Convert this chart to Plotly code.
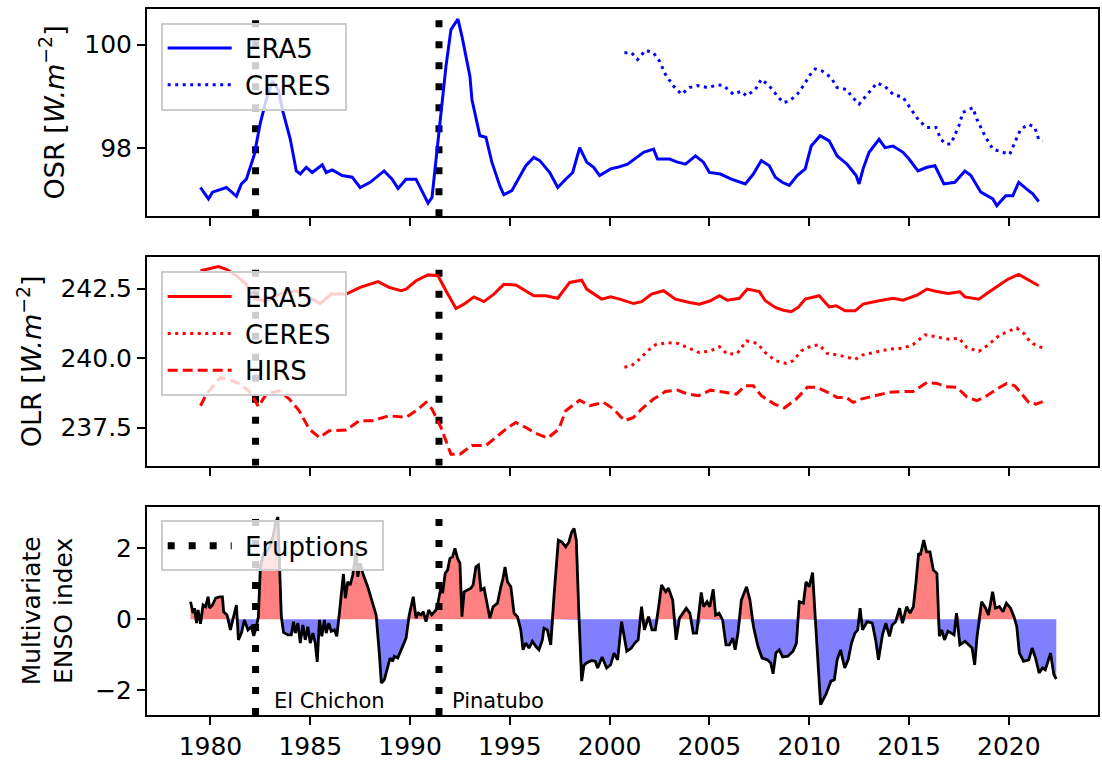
import plotly.graph_objects as go

# ---------------- data ----------------
osr_era5_year = [1979.5, 1979.9, 1980.1, 1980.8, 1981.3, 1981.55, 1981.8, 1982.2, 1982.5, 1982.8,
                 1983.1, 1983.4, 1983.6, 1984.0, 1984.3, 1984.5, 1984.8, 1985.1, 1985.6, 1985.8,
                 1986.1, 1986.6, 1987.1, 1987.5, 1988.0, 1988.7, 1989.1, 1989.4, 1989.8, 1990.3,
                 1990.55, 1990.9, 1991.1, 1991.3, 1991.55, 1991.8, 1992.05, 1992.4, 1992.6, 1993.0,
                 1993.1, 1993.5, 1993.8, 1994.1, 1994.5, 1994.7, 1995.1, 1995.5, 1995.8, 1996.2,
                 1996.5, 1997.0, 1997.4, 1997.8, 1998.15, 1998.5, 1998.85, 1999.2, 1999.5, 2000.05,
                 2000.4, 2000.9, 2001.25, 2001.7, 2002.2, 2002.4, 2003.0, 2003.4, 2003.8, 2004.3,
                 2004.7, 2005.0, 2005.55, 2006.1, 2006.8, 2007.2, 2007.6, 2008.0, 2008.3, 2008.65,
                 2009.0, 2009.4, 2009.8, 2010.1, 2010.55, 2011.0, 2011.4, 2011.9, 2012.35, 2012.5,
                 2012.7, 2013.0, 2013.5, 2013.8, 2014.2, 2014.7, 2015.0, 2015.45, 2015.9, 2016.3,
                 2016.75, 2017.3, 2017.8, 2018.1, 2018.6, 2019.2, 2019.4, 2019.85, 2020.2, 2020.5,
                 2020.9, 2021.2, 2021.5]
osr_era5 = [97.24, 97.02, 97.15, 97.24, 97.07, 97.31, 97.40, 97.88, 98.49, 98.94,
            99.29, 99.13, 98.75, 98.17, 97.56, 97.50, 97.63, 97.53, 97.68, 97.53,
            97.58, 97.47, 97.44, 97.24, 97.34, 97.56, 97.40, 97.22, 97.40, 97.40,
            97.21, 96.94, 97.05, 97.79, 98.75, 99.58, 100.29, 100.49, 100.16, 99.39,
            98.94, 98.24, 98.21, 97.73, 97.27, 97.10, 97.18, 97.47, 97.66, 97.82,
            97.76, 97.53, 97.24, 97.40, 97.53, 98.01, 97.73, 97.63, 97.47, 97.60,
            97.63, 97.69, 97.79, 97.92, 97.98, 97.79, 97.79, 97.73, 97.69, 97.85,
            97.73, 97.53, 97.50, 97.40, 97.31, 97.50, 97.76, 97.66, 97.44, 97.34,
            97.28, 97.47, 97.60, 98.04, 98.24, 98.14, 97.85, 97.69, 97.47, 97.31,
            97.60, 97.92, 98.17, 98.01, 98.04, 97.92, 97.79, 97.56, 97.63, 97.66,
            97.31, 97.34, 97.56, 97.47, 97.15, 97.02, 96.89, 97.08, 97.08, 97.34,
            97.21, 97.12, 96.97]

osr_ceres_year = [2000.74, 2001.1, 2001.4, 2001.8, 2002.2, 2002.5, 2002.8, 2003.2, 2003.6, 2004.0,
                  2004.4, 2004.9, 2005.4, 2005.7, 2006.2, 2006.6, 2006.85, 2007.3, 2007.6, 2008.0,
                  2008.4, 2008.7, 2009.0, 2009.4, 2009.7, 2010.05, 2010.3, 2010.65, 2011.1, 2011.4,
                  2011.9, 2012.1, 2012.5, 2012.8, 2013.2, 2013.4, 2013.8, 2014.2, 2014.7, 2015.1,
                  2015.5, 2015.9, 2016.35, 2016.6, 2016.85, 2017.1, 2017.5, 2017.7, 2018.2, 2018.4,
                  2018.8, 2019.2, 2019.7, 2020.05, 2020.3, 2020.6, 2021.0, 2021.3, 2021.5, 2021.7]
osr_ceres = [99.84, 99.84, 99.71, 99.89, 99.84, 99.68, 99.42, 99.20, 99.04, 99.17,
             99.21, 99.17, 99.22, 99.21, 99.04, 99.10, 99.01, 99.13, 99.33, 99.20,
             99.01, 98.88, 98.91, 99.04, 99.20, 99.42, 99.53, 99.49, 99.36, 99.17,
             99.13, 99.01, 98.85, 98.98, 99.17, 99.26, 99.19, 99.04, 98.98, 98.75,
             98.53, 98.40, 98.40, 98.17, 98.08, 98.08, 98.43, 98.69, 98.78, 98.56,
             98.24, 97.98, 97.92, 97.88, 98.11, 98.37, 98.46, 98.40, 98.17, 98.14]

olr_era5_year = [1979.5, 1979.8, 1980.4, 1980.8, 1981.3, 1981.8, 1982.2, 1982.8, 1983.45, 1984.3,
                 1984.95, 1985.5, 1986.05, 1986.8, 1987.5, 1988.4, 1988.95, 1989.55, 1989.8, 1990.3,
                 1990.9, 1991.4, 1991.8, 1992.3, 1992.7, 1993.2, 1993.7, 1994.2, 1994.7, 1995.3,
                 1996.2, 1996.8, 1997.4, 1998.0, 1998.6, 1998.85, 1999.6, 2000.05, 2000.5, 2001.2,
                 2001.6, 2002.1, 2002.7, 2003.3, 2004.0, 2004.5, 2005.05, 2005.5, 2005.9, 2006.5,
                 2006.9, 2007.5, 2007.8, 2008.3, 2008.7, 2009.1, 2009.45, 2009.8, 2010.5, 2011.0,
                 2011.35, 2011.8, 2012.3, 2012.7, 2013.5, 2014.2, 2014.7, 2015.4, 2015.9, 2016.4,
                 2016.95, 2017.55, 2017.8, 2018.5, 2018.9, 2019.45, 2019.95, 2020.5, 2020.8, 2021.2,
                 2021.5]
olr_era5 = [243.14, 243.19, 243.29, 243.19, 242.96, 242.65, 242.12, 242.06, 242.30, 242.42,
            242.18, 241.96, 242.30, 242.30, 242.54, 242.75, 242.54, 242.42, 242.48, 242.78,
            242.99, 242.96, 242.42, 241.78, 241.94, 242.20, 242.03, 242.30, 242.65, 242.63,
            242.24, 242.24, 242.15, 242.72, 242.80, 242.48, 242.12, 242.20, 242.12, 241.96,
            242.03, 242.30, 242.42, 242.12, 242.00, 241.94, 242.06, 242.24, 242.08, 242.15,
            242.48, 242.39, 242.06, 241.82, 241.72, 241.67, 241.82, 242.12, 242.24, 241.84,
            241.88, 241.70, 241.70, 241.94, 242.06, 242.15, 242.08, 242.26, 242.48, 242.39,
            242.32, 242.38, 242.20, 242.12, 242.32, 242.60, 242.83, 243.01, 242.89, 242.75,
            242.60]

olr_ceres_year = [2000.74, 2001.1, 2001.5, 2001.9, 2002.3, 2002.9, 2003.4, 2003.9, 2004.5, 2005.05,
                  2005.5, 2005.9, 2006.4, 2006.85, 2007.4, 2007.8, 2008.3, 2008.85, 2009.2, 2009.6,
                  2010.1, 2010.5, 2010.9, 2011.4, 2011.95, 2012.3, 2012.7, 2013.3, 2014.0, 2014.7,
                  2015.2, 2015.8, 2016.4, 2017.0, 2017.5, 2017.9, 2018.5, 2018.9, 2019.5, 2019.95,
                  2020.4, 2020.75, 2021.1, 2021.5, 2021.7]
olr_ceres = [239.67, 239.73, 239.96, 240.26, 240.48, 240.56, 240.53, 240.38, 240.20, 240.26,
             240.41, 240.14, 240.17, 240.62, 240.53, 240.20, 239.91, 239.81, 239.91, 240.26,
             240.44, 240.48, 240.17, 240.12, 240.02, 239.96, 240.12, 240.20, 240.32, 240.36,
             240.48, 240.84, 240.77, 240.68, 240.72, 240.38, 240.24, 240.44, 240.80, 240.96,
             241.08, 240.89, 240.56, 240.41, 240.38]

olr_hirs_year = [1979.5, 1979.8, 1980.5, 1981.0, 1981.5, 1982.0, 1982.4, 1982.8, 1983.45, 1983.95,
                 1984.45, 1984.95, 1985.45, 1985.95, 1986.8, 1987.45, 1988.1, 1988.95, 1989.8, 1990.3,
                 1990.8, 1991.1, 1991.55, 1992.05, 1992.5, 1993.1, 1993.8, 1994.4, 1994.8, 1995.3,
                 1995.8, 1996.3, 1996.9, 1997.45, 1997.8, 1998.5, 1999.0, 1999.7, 2000.2, 2000.74,
                 2001.2, 2001.6, 2002.2, 2002.8, 2003.4, 2003.9, 2004.45, 2005.05, 2005.6, 2006.35,
                 2006.8, 2007.2, 2007.6, 2008.25, 2008.75, 2009.35, 2009.9, 2010.4, 2011.1, 2011.4,
                 2011.85, 2012.2, 2012.6, 2013.3, 2014.0, 2014.7, 2015.2, 2015.9, 2016.4, 2016.85,
                 2017.4, 2017.9, 2018.4, 2018.9, 2019.4, 2019.9, 2020.3, 2020.65, 2021.0, 2021.35,
                 2021.7]
olr_hirs = [238.29, 238.71, 239.31, 239.21, 239.07, 238.77, 238.26, 238.71, 238.83, 238.53,
            238.11, 237.45, 237.15, 237.39, 237.42, 237.75, 237.75, 237.93, 237.87, 238.11,
            238.41, 238.17, 237.51, 236.55, 236.55, 236.86, 236.86, 237.21, 237.45, 237.69,
            237.51, 237.30, 237.13, 237.45, 238.11, 238.49, 238.29, 238.41, 238.17, 237.75,
            237.87, 238.17, 238.53, 238.80, 238.85, 238.71, 238.65, 238.85, 238.80, 238.71,
            239.01, 239.01, 238.65, 238.35, 238.21, 238.53, 238.95, 238.95, 238.71, 238.59,
            238.59, 238.41, 238.53, 238.65, 238.77, 238.80, 238.80, 239.13, 239.09, 238.97,
            238.95, 238.61, 238.47, 238.65, 238.89, 239.09, 239.01, 238.71, 238.41, 238.35,
            238.44]

mei_year = [1979.0, 1979.13, 1979.2, 1979.3, 1979.38, 1979.5, 1979.63, 1979.76, 1979.88, 1979.96,
            1980.1, 1980.26, 1980.46, 1980.6, 1980.66, 1980.83, 1981.0, 1981.16, 1981.3, 1981.4,
            1981.55, 1981.7, 1981.88, 1982.05, 1982.17, 1982.3, 1982.4, 1982.5, 1982.66, 1982.8,
            1982.96, 1983.13, 1983.26, 1983.38, 1983.46, 1983.55, 1983.66, 1983.88, 1984.05, 1984.16,
            1984.25, 1984.38, 1984.5, 1984.63, 1984.75, 1984.88, 1985.0, 1985.13, 1985.25, 1985.35,
            1985.46, 1985.58, 1985.71, 1985.8, 1985.93, 1986.05, 1986.21, 1986.33, 1986.46, 1986.66,
            1986.76, 1986.88, 1987.0, 1987.13, 1987.3, 1987.38, 1987.5, 1987.66, 1987.88, 1988.1,
            1988.3, 1988.46, 1988.56, 1988.71, 1988.88, 1989.0, 1989.13, 1989.21, 1989.38, 1989.5,
            1989.66, 1989.8, 1989.96, 1990.16, 1990.3, 1990.41, 1990.55, 1990.66, 1990.8, 1990.93,
            1991.08, 1991.3, 1991.41, 1991.55, 1991.63, 1991.76, 1991.88, 1992.0, 1992.13, 1992.25,
            1992.38, 1992.5, 1992.6, 1992.71, 1992.88, 1993.05, 1993.16, 1993.3, 1993.43, 1993.55,
            1993.71, 1993.88, 1994.0, 1994.16, 1994.38, 1994.55, 1994.66, 1994.76, 1994.88, 1995.05,
            1995.21, 1995.38, 1995.55, 1995.66, 1995.8, 1995.96, 1996.13, 1996.3, 1996.46, 1996.63,
            1996.71, 1996.88, 1997.05, 1997.21, 1997.43, 1997.6, 1997.8, 1997.96, 1998.1, 1998.22,
            1998.33, 1998.47, 1998.6, 1998.71, 1998.84, 1999.1, 1999.28, 1999.4, 1999.62, 1999.85,
            2000.05, 2000.22, 2000.4, 2000.6, 2000.86, 2001.09, 2001.26, 2001.43, 2001.6, 2001.74,
            2001.95, 2002.12, 2002.29, 2002.47, 2002.6, 2002.81, 2002.95, 2003.16, 2003.33, 2003.5,
            2003.67, 2003.84, 2004.02, 2004.19, 2004.36, 2004.59, 2004.71, 2004.88, 2005.02, 2005.19,
            2005.31, 2005.48, 2005.66, 2005.83, 2006.0, 2006.17, 2006.29, 2006.43, 2006.6, 2006.86,
            2007.03, 2007.21, 2007.43, 2007.64, 2007.9, 2008.07, 2008.19, 2008.33, 2008.5, 2008.67,
            2008.93, 2009.19, 2009.36, 2009.5, 2009.71, 2009.84, 2010.0, 2010.17, 2010.31, 2010.57,
            2010.83, 2011.09, 2011.26, 2011.4, 2011.57, 2011.78, 2011.95, 2012.12, 2012.29, 2012.43,
            2012.55, 2012.67, 2012.9, 2013.16, 2013.33, 2013.47, 2013.67, 2013.84, 2014.02, 2014.16,
            2014.33, 2014.53, 2014.67, 2014.88, 2015.05, 2015.22, 2015.36, 2015.48, 2015.57, 2015.74,
            2015.88, 2016.05, 2016.22, 2016.4, 2016.52, 2016.64, 2016.78, 2016.95, 2017.12, 2017.26,
            2017.38, 2017.55, 2017.81, 2018.02, 2018.16, 2018.29, 2018.41, 2018.64, 2018.84, 2018.98,
            2019.19, 2019.33, 2019.53, 2019.71, 2019.88, 2020.09, 2020.26, 2020.4, 2020.53, 2020.74,
            2021.0, 2021.17, 2021.34, 2021.52, 2021.69, 2021.83, 2022.09, 2022.26, 2022.38]
mei = [0.49, 0.17, 0.31, -0.11, 0.26, -0.13, 0.40, 0.35, 0.63, 0.31,
       0.40, 0.59, 0.63, 0.63, 0.21, 0.12, -0.30, 0.12, 0.40, -0.58,
       -0.39, -0.02, -0.30, -0.21, -0.47, -0.21, 0.07, 1.47, 1.85, 1.89,
       2.03, 2.31, 2.69, 2.87, 1.38, 0.07, -0.37, -0.44, -0.44, -0.07,
       -0.39, -0.11, -0.67, -0.16, -0.58, -0.21, -0.67, -0.39, -0.67, -1.20,
       -0.02, -0.48, -0.02, -0.39, -0.11, -0.34, -0.30, -0.48, 0.17, 1.27,
       0.59, 1.05, 0.96, 1.24, 1.94, 1.19, 1.57, 1.24, 0.91, 0.49,
       0.12, -0.95, -1.79, -1.70, -1.37, -1.09, -1.18, -1.04, -1.09, -0.95,
       -0.72, -0.53, 0.12, 0.63, 0.03, 0.17, 0.12, 0.21, -0.07, 0.26,
       0.12, 0.26, 0.49, 0.91, 0.73, 1.29, 1.38, 1.71, 1.75, 1.99,
       1.71, 1.57, 0.07, 0.77, 0.82, 0.87, 0.96, 1.47, 1.52, 0.82,
       0.87, 0.35, 0.03, 0.35, 0.45, 0.91, 1.15, 1.47, 1.05, 0.91,
       0.17, 0.07, -0.30, -0.86, -0.67, -0.81, -0.62, -0.76, -0.86, -0.58,
       -0.25, -0.30, -0.72, 0.63, 2.22, 2.17, 2.03, 2.17, 2.45, 2.55,
       2.22, -0.02, -1.74, -1.30, -1.23, -1.16, -1.18, -1.37, -1.06, -1.37,
       -1.28, -0.95, -1.14, -0.07, -0.90, -0.81, -0.67, -0.58, 0.35, -0.30,
       0.07, -0.30, -0.30, 0.40, 0.96, 0.77, 0.87, 0.54, -0.58, 0.03,
       0.17, 0.31, 0.17, -0.39, -0.39, 0.75, 0.35, 0.49, 0.35, 0.84,
       0.12, 0.17, -0.02, -0.72, -0.72, -0.53, -0.86, -0.39, 0.54, 0.91,
       0.54, -0.21, -0.76, -1.09, -1.14, -1.23, -1.53, -0.95, -0.86, -1.06,
       -1.04, -0.90, -0.67, 0.49, 0.45, 1.05, 0.91, 1.31, -0.02, -2.40,
       -2.12, -1.74, -1.70, -1.14, -0.86, -1.37, -1.14, -0.67, -0.39, -0.30,
       0.31, -0.30, -0.07, -0.11, -0.58, -1.14, -0.44, -0.11, -0.48, -0.16,
       -0.07, 0.31, -0.11, 0.35, 0.17, 0.35, 1.10, 1.85, 1.80, 2.22,
       1.89, 1.89, 1.38, 1.29, -0.48, -0.30, -0.58, -0.34, -0.39, -0.44,
       0.17, -0.72, -0.62, -0.72, -0.81, -1.28, -0.48, 0.49, 0.31, 0.12,
       0.77, 0.31, 0.35, 0.21, 0.45, 0.31, 0.07, -0.21, -0.95, -1.18,
       -1.14, -0.81, -1.09, -1.51, -1.37, -1.42, -0.95, -1.56, -1.68]

eruption_years = [1982.26, 1991.45]
eruption_names = ["El Chichon", "Pinatubo"]
eruption_label_offsets = [0.8, 0.55]

# ---------------- styling ----------------
FONT = "DejaVu Sans"
NB = "\u00a0"
X_RANGE = [1976.82, 2024.47]
Y1_RANGE = [96.687, 100.687]
Y2_RANGE = [236.136, 243.637]
Y3_RANGE = [-2.69, 3.147]

fig = go.Figure()


def add_eruptions(xa, ya, yr, show):
    xs, ys = [], []
    for e in eruption_years:
        xs += [e, e, None]
        ys += [yr[0], yr[1], None]
    fig.add_trace(go.Scatter(x=xs, y=ys, mode="lines", xaxis=xa, yaxis=ya,
                             line=dict(color="black", width=7, dash="7px,14px"),
                             name=NB + "Eruptions" + NB, showlegend=show, legend="legend3",
                             hoverinfo="skip"))


# Panel 1: OSR
add_eruptions("x", "y", Y1_RANGE, False)
fig.add_trace(go.Scatter(x=osr_era5_year, y=osr_era5, mode="lines", name=NB + "ERA5",
                         line=dict(color="#0000ff", width=3), xaxis="x", yaxis="y",
                         legend="legend"))
fig.add_trace(go.Scatter(x=osr_ceres_year, y=osr_ceres, mode="lines", name=NB + "CERES" + NB,
                         line=dict(color="#0000ff", width=3, dash="3px,4.5px"),
                         xaxis="x", yaxis="y", legend="legend"))

# Panel 2: OLR
add_eruptions("x2", "y2", Y2_RANGE, False)
fig.add_trace(go.Scatter(x=olr_era5_year, y=olr_era5, mode="lines", name=NB + "ERA5",
                         line=dict(color="#ff0000", width=3), xaxis="x2", yaxis="y2",
                         legend="legend2"))
fig.add_trace(go.Scatter(x=olr_ceres_year, y=olr_ceres, mode="lines", name=NB + "CERES" + NB,
                         line=dict(color="#ff0000", width=3, dash="3px,4.5px"),
                         xaxis="x2", yaxis="y2", legend="legend2"))
fig.add_trace(go.Scatter(x=olr_hirs_year, y=olr_hirs, mode="lines", name=NB + "HIRS",
                         line=dict(color="#ff0000", width=3, dash="10px,5px"),
                         xaxis="x2", yaxis="y2", legend="legend2"))

# Panel 3: MEI
mei_pos = [v if v > 0 else 0 for v in mei]
mei_neg = [v if v < 0 else 0 for v in mei]
fig.add_trace(go.Scatter(x=mei_year, y=mei_pos, mode="lines", fill="tozeroy",
                         fillcolor="#ff8080", line=dict(color="rgba(0,0,0,0)", width=0),
                         xaxis="x3", yaxis="y3", showlegend=False, hoverinfo="skip"))
fig.add_trace(go.Scatter(x=mei_year, y=mei_neg, mode="lines", fill="tozeroy",
                         fillcolor="#8080ff", line=dict(color="rgba(0,0,0,0)", width=0),
                         xaxis="x3", yaxis="y3", showlegend=False, hoverinfo="skip"))
fig.add_trace(go.Scatter(x=mei_year, y=mei, mode="lines", line=dict(color="black", width=2.8),
                         xaxis="x3", yaxis="y3", showlegend=False))
add_eruptions("x3", "y3", Y3_RANGE, True)

for name, yr, off in zip(eruption_names, eruption_years, eruption_label_offsets):
    fig.add_annotation(x=yr + off, y=-2.3, xref="x3", yref="y3", text=name, showarrow=False,
                       xanchor="left", yanchor="middle",
                       font=dict(family=FONT, size=21, color="black"))

axis_common = dict(showline=True, linecolor="black", linewidth=2, mirror=True,
                   ticks="outside", ticklen=8, tickwidth=2, tickcolor="black",
                   showgrid=False, zeroline=False,
                   tickfont=dict(family=FONT, size=25, color="black"))

legend_common = dict(x=0.0144, xanchor="left", yanchor="top",
                     bgcolor="rgba(255,255,255,0.8)", bordercolor="#cccccc", borderwidth=2,
                     font=dict(family=FONT, size=26, color="black"), itemwidth=64)

xticks = [1980, 1985, 1990, 1995, 2000, 2005, 2010, 2015, 2020]
fig.update_layout(
    width=1102, height=763,
    margin=dict(l=147, r=2, t=9, b=44),
    plot_bgcolor="white", paper_bgcolor="white",
    font=dict(family=FONT, color="black"),
    xaxis=dict(domain=[0, 1], range=X_RANGE, anchor="y", tickvals=xticks,
               showticklabels=False, **axis_common),
    xaxis2=dict(domain=[0, 1], range=X_RANGE, anchor="y2", tickvals=xticks,
                showticklabels=False, matches="x", **axis_common),
    xaxis3=dict(domain=[0, 1], range=X_RANGE, anchor="y3", tickvals=xticks,
                matches="x", **axis_common),
    yaxis=dict(domain=[0.7066, 1.0], range=Y1_RANGE, anchor="x", tickvals=[98, 100],
               **axis_common),
    yaxis2=dict(domain=[0.3531, 0.6489], range=Y2_RANGE, anchor="x2",
                tickvals=[237.5, 240.0, 242.5], tickformat=".1f", **axis_common),
    yaxis3=dict(domain=[0.0, 0.2944], range=Y3_RANGE, anchor="x3",
                tickvals=[-2, 0, 2], **axis_common),
    legend=dict(y=0.9807, **legend_common),
    legend2=dict(y=0.6286, **legend_common),
    legend3=dict(y=0.2756, **legend_common),
)

# y-axis titles as rotated annotations
ytitles = [("OSR [<i>W.m</i><sup>−2</sup>]", -0.100, 0.8534, 27),
           ("OLR [<i>W.m</i><sup>−2</sup>]", -0.124, 0.5010, 27),
           ("Multivariate<br>ENSO index", -0.104, 0.1470, 25)]
for txt, px, py, fs in ytitles:
    fig.add_annotation(x=px, y=py, xref="paper", yref="paper", text=txt,
                       showarrow=False, textangle=-90, xanchor="center", yanchor="middle",
                       font=dict(family=FONT, size=fs, color="black"))

fig.write_html("out.html")
